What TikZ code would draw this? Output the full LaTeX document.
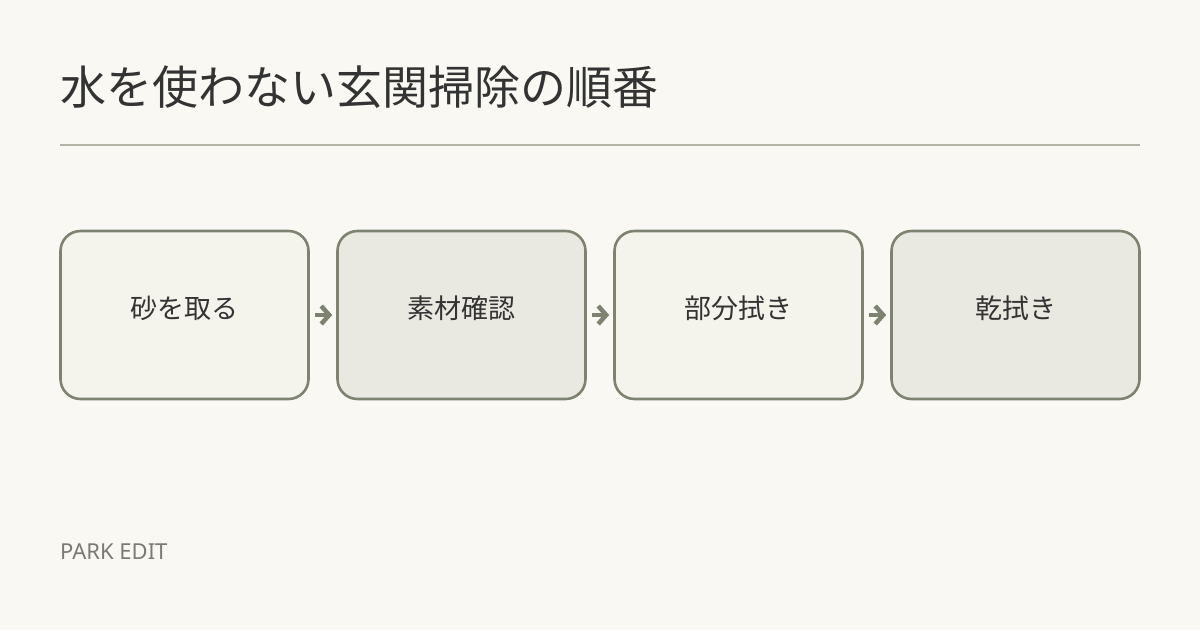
\documentclass[tikz,border=0pt]{standalone}
\usepackage{fontspec}
\newfontfamily\cjk{Noto Sans CJK JP}
\setmainfont{Noto Sans}
\usetikzlibrary{positioning,arrows.meta}
\definecolor{paper}{HTML}{F9F8F3}
\definecolor{ink}{HTML}{333333}
\definecolor{rule}{HTML}{B4B4A4}
\definecolor{edge}{HTML}{7E8371}
\definecolor{fillA}{HTML}{F5F4EC}
\definecolor{fillB}{HTML}{EAE9E1}
\definecolor{foot}{HTML}{7A7A74}
\tikzset{
	stepbox/.style={draw=edge, line width=2.6pt, rounded corners=20pt, minimum width=248pt, minimum height=168pt, text height=24pt, text depth=17pt, text=ink, font=\cjk\fontsize{27}{32}\selectfont},
	flow/.style={draw=edge, line width=4.5pt, -{Straight Barb[length=8pt, width=18pt, line width=4.5pt]}, shorten <=5pt, shorten >=4pt}
}
\begin{document}
\begin{tikzpicture}[x=1pt, y=-1pt]
			\fill[paper] (0,0) rectangle (1200,630);
			\useasboundingbox (0,0) rectangle (1200,630);
			\node[anchor=base west, text=ink, font=\cjk\fontsize{46}{50}\selectfont, inner sep=0pt] (title) at (60,104){水を使わない玄関掃除の順番};
			\draw[rule, line width=1.6pt] (60,145) -- (1140,145);
			
			\node[stepbox, fill=fillA] (s1) at (184.5,315){砂を取る};
			\node[stepbox, fill=fillB, right=26.4pt of s1] (s2){素材確認};
			\node[stepbox, fill=fillA, right=26.4pt of s2] (s3){部分拭き};
			\node[stepbox, fill=fillB, right=26.4pt of s3] (s4){乾拭き};
			
			\foreach \a/\b in {s1/s2, s2/s3, s3/s4}{
				\draw[flow] (\a.east) -- (\b.west);
			}
			
			\node[anchor=base west, text=foot, font=\fontsize{22}{25}\selectfont, inner sep=0pt] (brand) at (60,559){PARK EDIT};
		\end{tikzpicture}
\end{document}
